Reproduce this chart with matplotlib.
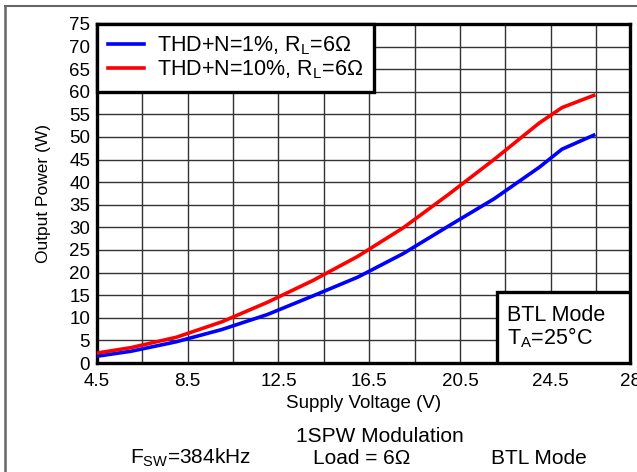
import numpy as np
import matplotlib
matplotlib.use('Agg')
import matplotlib.pyplot as plt
from matplotlib.lines import Line2D
from matplotlib.patches import Rectangle

plt.rcParams['font.family'] = ['Liberation Sans', 'DejaVu Sans']
plt.rcParams['mathtext.fontset'] = 'custom'
plt.rcParams['mathtext.rm'] = 'Liberation Sans'
plt.rcParams['mathtext.it'] = 'Liberation Sans:italic'

# supply voltage (V) and output power (W)
volts = [4.5, 6, 8, 10, 12, 14, 16, 18, 20, 22, 24, 25, 26.4]
p_thd1 = [1.5, 2.6, 4.7, 7.4, 10.7, 14.8, 19.0, 24.2, 30.3, 36.3, 43.3, 47.3, 50.4]
p_thd10 = [2.2, 3.4, 5.7, 9.1, 13.4, 18.2, 23.6, 29.9, 37.3, 45.0, 53.1, 56.5, 59.2]

labels = [r'THD+N=1%, R$_\mathrm{L}$=6Ω', r'THD+N=10%, R$_\mathrm{L}$=6Ω']
xtick_vals = [4.5, 8.5, 12.5, 16.5, 20.5, 24.5, 28]
xtick_labels = ['4.5', '8.5', '12.5', '16.5', '20.5', '24.5', '28']

fig = plt.figure(figsize=(6.37, 4.72), dpi=100)
ax = fig.add_axes([97/637, 1-363/472, 533/637, 339/472])

ax.plot(volts, p_thd1, color='#0000ff', lw=2.6, label=labels[0], zorder=3)
ax.plot(volts, p_thd10, color='#ff0000', lw=2.6, label=labels[1], zorder=3)

ax.set_xlim(4.5, 28)
ax.set_ylim(0, 75)
ax.set_xticks(xtick_vals)
ax.set_xticklabels(xtick_labels)
ax.set_xticks(np.arange(6.5, 28, 4), minor=True)
ax.set_yticks(np.arange(0, 76, 5))
ax.tick_params(axis='both', which='both', length=0, labelsize=13.5)
ax.tick_params(axis='y', pad=5)
ax.tick_params(axis='x', pad=7)
ax.grid(True, which='both', axis='x', color='#333333', lw=1)
ax.grid(True, which='major', axis='y', color='#333333', lw=1)
ax.set_axisbelow(True)
for s in ax.spines.values():
    s.set_linewidth(2.4)
    s.set_color('black')

ax.set_xlabel('Supply Voltage (V)', fontsize=13.5, labelpad=4)
ax.set_ylabel('Output Power (W)', fontsize=12.5, labelpad=13)

leg = ax.legend(loc='upper left', bbox_to_anchor=(0, 1), borderaxespad=0,
                fontsize=15.5, frameon=True, fancybox=False, framealpha=1,
                edgecolor='black', handlelength=1.7, handletextpad=0.6,
                labelspacing=0.05, borderpad=0.5)
leg.get_frame().set_linewidth(2.4)
leg.set_zorder(5)

# BTL / Ta box, lower right
ax.add_patch(Rectangle((0.75, 0), 0.25, 0.21, transform=ax.transAxes,
                       facecolor='white', edgecolor='black', lw=2.4, zorder=4))
ax.text(0.77, 0.105, 'BTL Mode\nT$_\\mathrm{A}$=25°C', transform=ax.transAxes,
        fontsize=15.5, va='center', ha='left', linespacing=1.0, zorder=6)

# conditions below the plot
fig.text(380/637, 1-437/472, '1SPW Modulation', fontsize=15, ha='center', va='center')
fig.text(190/637, 1-458/472, r'F$_\mathrm{SW}$=384kHz', fontsize=15, ha='center', va='center')
fig.text(362/637, 1-458/472, 'Load = 6Ω', fontsize=15, ha='center', va='center')
fig.text(539/637, 1-458/472, 'BTL Mode', fontsize=15, ha='center', va='center')

# outer table frame
fig.add_artist(Line2D([4.5/637, 4.5/637], [0, 1-6/472], transform=fig.transFigure,
                      color='#666666', lw=1.8))
fig.add_artist(Line2D([4.5/637, 1], [1-6/472, 1-6/472], transform=fig.transFigure,
                      color='#666666', lw=1.5))

fig.savefig('out.png', dpi=100)
